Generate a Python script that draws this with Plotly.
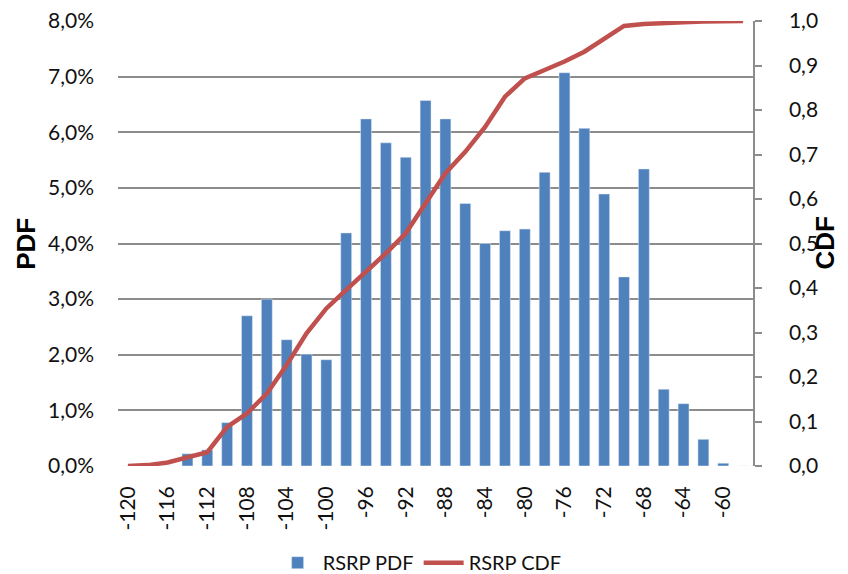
import plotly.graph_objects as go

rsrp = [-120, -118, -116, -114, -112, -110, -108, -106, -104, -102, -100, -98,
        -96, -94, -92, -90, -88, -86, -84, -82, -80, -78, -76, -74, -72, -70,
        -68, -66, -64, -62, -60, -58]
pdf = [0.0, 0.0, 0.0, 0.0022, 0.0029, 0.0078, 0.0270, 0.0300, 0.0227, 0.0201,
       0.0191, 0.0419, 0.0624, 0.0581, 0.0555, 0.0657, 0.0624, 0.0472, 0.0400,
       0.0423, 0.0426, 0.0528, 0.0707, 0.0607, 0.0489, 0.0340, 0.0534, 0.0138,
       0.0112, 0.0048, 0.0005, 0.0]
cdf = [0.0, 0.002, 0.008, 0.020, 0.031, 0.088, 0.118, 0.163, 0.227, 0.298,
       0.354, 0.396, 0.437, 0.478, 0.523, 0.590, 0.658, 0.706, 0.762, 0.830,
       0.871, 0.890, 0.909, 0.931, 0.961, 0.989, 0.993, 0.996, 0.997, 0.999,
       1.0, 1.0]
x_ticks = [-120, -116, -112, -108, -104, -100, -96, -92, -88, -84, -80, -76,
           -72, -68, -64, -60]

FONT = "Lato, 'Open Sans', sans-serif"
GRID = "#8c8c8c"
TITLE_FONT = dict(family="Liberation Sans, Arial", size=26, weight="bold",
                  color="#000")

fig = go.Figure()
fig.add_trace(go.Bar(x=rsrp, y=pdf, name="RSRP PDF", marker_color="#4F81BD",
                     width=1.1, yaxis="y"))
fig.add_trace(go.Scatter(x=rsrp, y=cdf, name="RSRP CDF", mode="lines",
                         line=dict(color="#C0504D", width=4.5), yaxis="y2"))

fig.update_layout(
    width=848, height=566,
    margin=dict(l=110, r=103, t=13, b=108, autoexpand=False),
    paper_bgcolor="white", plot_bgcolor="white",
    separators=",.",
    font=dict(family=FONT, size=21, color="#111"),
    showlegend=True,
    legend=dict(orientation="h", x=0.475, xanchor="center", yref="container",
                y=0.02, yanchor="middle", font=dict(size=20), itemwidth=40,
                traceorder="normal"),
    xaxis=dict(range=[-121, -57], tickvals=x_ticks,
               ticktext=[str(v) for v in x_ticks], tickangle=-90,
               showgrid=False, zeroline=False, showline=False, ticks="",
               ticklabelstandoff=15, automargin=False),
    yaxis=dict(range=[0, 0.08], dtick=0.01, tickformat=".1%",
               showgrid=True, gridcolor=GRID, gridwidth=1.5,
               zeroline=False, showline=False, ticks="",
               ticklabelstandoff=23, automargin=False,
               ticklabeloverflow="allow"),
    yaxis2=dict(range=[0, 1], dtick=0.1, tickformat=".1f", overlaying="y",
                side="right", anchor="x", showgrid=False, zeroline=False,
                showline=True, linecolor=GRID, linewidth=1.5,
                ticks="outside", ticklen=7, tickcolor=GRID, tickwidth=1.5,
                ticklabelstandoff=23, automargin=False,
                ticklabeloverflow="allow", tickfont=dict(size=21)),
    annotations=[
        dict(text="PDF", xref="paper", yref="paper", x=-0.146, y=0.5,
             xanchor="center", yanchor="middle", textangle=-90,
             showarrow=False, font=TITLE_FONT),
        dict(text="CDF", xref="paper", yref="paper", x=1.112, y=0.5,
             xanchor="center", yanchor="middle", textangle=-90,
             showarrow=False, font=TITLE_FONT),
    ],
)

fig.write_html("out.html")
